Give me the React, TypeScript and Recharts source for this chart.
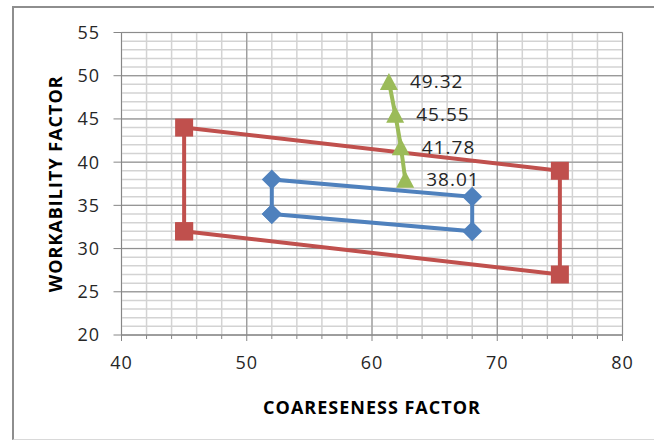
import React from 'react';
import { ComposedChart, Line, XAxis, YAxis, CartesianGrid, LabelList, Label } from 'recharts';

// Outer (red) boundary: coarseness factor vs workability factor, closed loop
const outerX = [45, 45, 75, 75, 45];
const outerY = [32, 44, 39, 27, 32];

// Inner (blue) boundary, closed loop
const innerX = [52, 52, 68, 68, 52];
const innerY = [34, 38, 36, 32, 34];

// Trend (green) points with their labelled workability values
const trendX = [61.35, 61.85, 62.3, 62.65];
const trendY = [49.32, 45.55, 41.78, 38.01];

// Axis ticks
const xTicks = [40, 42, 44, 46, 48, 50, 52, 54, 56, 58, 60, 62, 64, 66, 68, 70, 72, 74, 76, 78, 80];
const xMajorTicks = [40, 50, 60, 70, 80];
const yTicks = [20, 25, 30, 35, 40, 45, 50, 55];
const yMinorValues: number[] = [];
for (let v = 20; v <= 55; v++) yMinorValues.push(v);

const outerData = outerX.map((x, i) => ({ x, y: outerY[i] }));
const innerData = innerX.map((x, i) => ({ x, y: innerY[i] }));
const trendData = trendX.map((x, i) => ({ x, y: trendY[i] }));

const RED = '#C0504D';
const BLUE = '#4F81BD';
const GREEN = '#9BBB59';
const AXIS_GRAY = '#868686';
const TEXT = '#262626';
const FONT = '"Open Sans", Lato, sans-serif';

const SquareDot = (props: any) => {
  const { cx, cy, index } = props;
  const s = 18;
  return <rect key={`sq-${index}`} x={cx - s / 2} y={cy - s / 2} width={s} height={s} fill={RED} />;
};

const DiamondDot = (props: any) => {
  const { cx, cy, index } = props;
  const r = 10;
  return (
    <polygon
      key={`dm-${index}`}
      points={`${cx},${cy - r} ${cx + r},${cy} ${cx},${cy + r} ${cx - r},${cy}`}
      fill={BLUE}
    />
  );
};

const TriangleDot = (props: any) => {
  const { cx, cy, index } = props;
  const w = 18;
  const h = 17;
  return (
    <polygon
      key={`tr-${index}`}
      points={`${cx},${cy - h / 2} ${cx + w / 2},${cy + h / 2} ${cx - w / 2},${cy + h / 2}`}
      fill={GREEN}
    />
  );
};

const XTick = (props: any) => {
  const { x, y, payload } = props;
  const major = xMajorTicks.includes(payload.value);
  return (
    <g>
      <line x1={x} x2={x} y1={y} y2={y + (major ? 6 : 4)} stroke={AXIS_GRAY} strokeWidth={1} />
      {major && (
        <text x={x} y={y + 34} textAnchor="middle" fill={TEXT} fontSize={18} fontFamily={FONT} letterSpacing={1}>
          {payload.value}
        </text>
      )}
    </g>
  );
};

export default function App() {
  return (
    <div style={{ position: 'absolute', left: 0, top: 0, width: 654, height: 441, overflow: 'hidden', background: '#fff' }}>
      <div
        style={{
          position: 'absolute',
          left: 12,
          top: 6,
          width: 700,
          height: 434,
          borderTop: '2px solid #8e8e8e',
          borderLeft: '2px solid #8e8e8e',
          borderBottom: '1px solid #d9d9d9',
          boxSizing: 'border-box',
        }}
      />
      <div style={{ position: 'absolute', left: 0, top: 0 }}>
        <ComposedChart width={654} height={441} margin={{ top: 32.5, right: 31.5, bottom: 0, left: 0 }}>
          <CartesianGrid
            horizontalValues={yMinorValues}
            verticalValues={xTicks}
            stroke="#d3d3d3"
            strokeWidth={1.5}
          />
          <CartesianGrid
            horizontalValues={yTicks}
            verticalValues={xMajorTicks}
            stroke="#8c8c8c"
            strokeWidth={1}
          />
          <XAxis
            type="number"
            dataKey="x"
            domain={[40, 80]}
            ticks={xTicks}
            interval={0}
            tickSize={0}
            tickMargin={0}
            tickLine={false}
            tick={<XTick />}
            height={106}
            axisLine={{ stroke: AXIS_GRAY }}
            allowDataOverflow
          >
            <Label
              value="COARESENESS FACTOR"
              position="insideTop"
              offset={66}
              style={{ fontFamily: FONT, fontSize: 18, fontWeight: 700, fill: '#000', letterSpacing: 1 }}
            />
          </XAxis>
          <YAxis
            type="number"
            dataKey="y"
            domain={[20, 55]}
            ticks={yTicks}
            interval={0}
            width={121.5}
            tickSize={8}
            tickMargin={13.5}
            tickLine={{ stroke: AXIS_GRAY }}
            axisLine={{ stroke: AXIS_GRAY }}
            tick={{ fill: TEXT, fontSize: 18, fontFamily: FONT, letterSpacing: 1 }}
            allowDataOverflow
          >
            <Label
              value="WORKABILITY FACTOR"
              angle={-90}
              position="insideLeft"
              offset={55.5}
              style={{ textAnchor: 'middle', fontFamily: FONT, fontSize: 18, fontWeight: 700, fill: '#000', letterSpacing: 1 }}
            />
          </YAxis>
          <Line
            data={outerData}
            dataKey="y"
            type="linear"
            stroke={RED}
            strokeWidth={4}
            dot={SquareDot}
            activeDot={false}
            isAnimationActive={false}
          />
          <Line
            data={trendData}
            dataKey="y"
            type="monotone"
            stroke={GREEN}
            strokeWidth={4}
            dot={TriangleDot}
            activeDot={false}
            isAnimationActive={false}
          >
            <LabelList
              dataKey="y"
              position="right"
              offset={21}
              formatter={(v: any) => Number(v).toFixed(2)}
              style={{ fill: TEXT, fontSize: 19, fontFamily: FONT, letterSpacing: 1 }}
            />
          </Line>
          <Line
            data={innerData}
            dataKey="y"
            type="linear"
            stroke={BLUE}
            strokeWidth={4}
            dot={DiamondDot}
            activeDot={false}
            isAnimationActive={false}
          />
        </ComposedChart>
      </div>
    </div>
  );
}
